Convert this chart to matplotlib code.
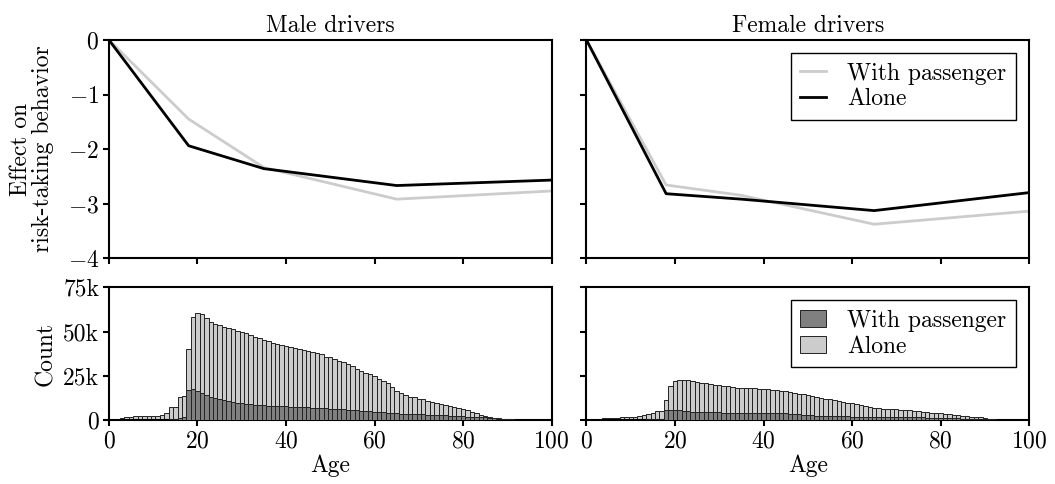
import numpy as np
import matplotlib
matplotlib.use("Agg")
import matplotlib.pyplot as plt
from matplotlib.ticker import FuncFormatter

plt.rcParams['font.family'] = 'serif'
plt.rcParams['font.serif'] = ['cmr10', 'DejaVu Serif']
plt.rcParams['mathtext.fontset'] = 'cm'
plt.rcParams['axes.formatter.use_mathtext'] = True
plt.rcParams['axes.unicode_minus'] = True
plt.rcParams['font.size'] = 17

# effect curves (age knots)
knots = [0, 18, 35, 65, 100]
male_pass_eff = [0, -1.45, -2.34, -2.92, -2.77]
male_alone_eff = [0, -1.94, -2.36, -2.67, -2.57]
female_pass_eff = [0, -2.66, -2.85, -3.38, -3.14]
female_alone_eff = [0, -2.82, -2.92, -3.13, -2.80]

# counts per age 0..100, in thousands
ages = np.arange(0, 101)
male_alone = [
    0.3, 0.5, 0.8, 1.2, 1.7, 2.1, 2.4, 2.5, 2.5, 2.5,
    2.5, 2.6, 2.9, 3.9, 7.5, 7.7, 13.3, 13.5, 40.4, 58.0,
    60.3, 59.7, 57.7, 55.5, 54.3, 53.6, 52.8, 52.0, 51.3, 50.6,
    49.9, 49.0, 48.0, 47.2, 46.2, 45.3, 44.9, 43.8, 43.2, 42.7,
    41.9, 41.5, 40.8, 40.2, 39.5, 39.1, 38.5, 37.8, 37.2, 35.9,
    35.5, 34.4, 33.6, 32.9, 31.6, 30.8, 29.1, 27.8, 26.8, 26.0,
    24.8, 23.5, 22.3, 20.8, 19.0, 16.3, 15.2, 14.3, 13.3, 13.0,
    12.2, 11.8, 11.1, 10.5, 10.0, 9.4, 8.6, 8.1, 7.5, 7.0,
    6.6, 5.8, 4.7, 3.9, 3.2, 2.6, 2.1, 1.5, 1.1, 0.75,
    0.55, 0.4, 0.3, 0.2, 0.15, 0.1, 0.07, 0.05, 0.03, 0.02,
    0.01]
male_pass = [
    0.02, 0.05, 0.05, 0.06, 0.07, 0.08, 0.09, 0.1, 0.1, 0.12,
    0.13, 0.15, 0.2, 0.3, 0.5, 0.6, 1.3, 1.6, 17.3, 17.8,
    16.4, 15.2, 14.1, 13.2, 12.4, 11.8, 11.2, 10.8, 10.4, 10.0,
    9.7, 9.4, 9.1, 8.9, 8.7, 8.5, 8.3, 8.2, 8.0, 7.9,
    7.8, 7.7, 7.6, 7.5, 7.4, 7.3, 7.2, 7.0, 6.9, 6.7,
    6.6, 6.5, 6.3, 6.2, 6.0, 5.9, 5.7, 5.5, 5.3, 5.1,
    4.9, 4.7, 4.5, 4.3, 4.1, 3.9, 3.8, 3.7, 3.6, 3.5,
    3.4, 3.3, 3.2, 3.1, 3.0, 2.9, 2.8, 2.6, 2.5, 2.4,
    2.3, 2.1, 1.9, 1.8, 1.7, 1.6, 1.4, 1.2, 1.0, 0.85,
    0.7, 0.55, 0.4, 0.3, 0.25, 0.2, 0.15, 0.1, 0.07, 0.05,
    0.03]
female_alone = [
    0.3, 0.6, 0.75, 0.9, 1.1, 1.3, 1.5, 1.5, 1.7, 1.7,
    1.9, 2.1, 2.3, 2.8, 3.8, 3.9, 5.3, 5.5, 11.5, 19.4,
    22.2, 22.7, 22.7, 22.6, 22.0, 21.6, 21.2, 20.9, 20.7, 19.9,
    19.7, 19.4, 19.2, 18.6, 18.4, 18.3, 18.2, 18.2, 18.1, 17.8,
    17.6, 17.5, 17.3, 17.0, 16.7, 16.3, 15.9, 15.5, 15.0, 14.6,
    14.1, 13.7, 13.2, 12.7, 12.2, 11.8, 11.4, 10.9, 10.4, 10.0,
    9.5, 9.0, 8.4, 8.0, 7.5, 6.9, 6.8, 6.6, 6.5, 6.3,
    6.2, 6.0, 5.8, 5.6, 5.4, 5.2, 4.9, 4.7, 4.4, 4.1,
    3.9, 3.6, 3.3, 3.0, 2.8, 2.5, 2.3, 2.1, 1.9, 1.6,
    1.3, 1.0, 0.8, 0.6, 0.5, 0.35, 0.25, 0.15, 0.1, 0.06,
    0.03]
female_pass = [
    0.02, 0.05, 0.05, 0.06, 0.07, 0.08, 0.09, 0.1, 0.1, 0.12,
    0.13, 0.15, 0.2, 0.3, 0.5, 0.6, 0.9, 1.0, 5.6, 5.9,
    5.8, 5.6, 5.4, 5.1, 4.9, 4.8, 4.7, 4.6, 4.6, 4.5,
    4.5, 4.4, 4.4, 4.4, 4.4, 4.3, 4.3, 4.3, 4.3, 4.3,
    4.2, 4.2, 4.2, 4.2, 4.1, 4.0, 3.8, 3.5, 3.3, 3.1,
    2.9, 2.8, 2.7, 2.6, 2.5, 2.4, 2.3, 2.3, 2.2, 2.2,
    2.1, 2.1, 2.0, 2.0, 2.0, 1.9, 1.9, 1.9, 1.8, 1.8,
    1.8, 1.7, 1.7, 1.7, 1.6, 1.6, 1.6, 1.5, 1.5, 1.4,
    1.4, 1.3, 1.2, 1.2, 1.1, 1.0, 1.0, 0.9, 0.9, 0.8,
    0.7, 0.6, 0.5, 0.4, 0.3, 0.2, 0.15, 0.1, 0.07, 0.05,
    0.03]

light = '#cccccc'
dark = '#808080'

fig = plt.figure(figsize=(10.55, 4.84), dpi=100)
lx = [0.1033, 0.5559]
w = 0.4195
ax_tl = fig.add_axes([lx[0], 0.4669, w, 0.4504])
ax_tr = fig.add_axes([lx[1], 0.4669, w, 0.4504])
ax_bl = fig.add_axes([lx[0], 0.1316, w, 0.2748])
ax_br = fig.add_axes([lx[1], 0.1316, w, 0.2748])

def style(ax):
    for s in ax.spines.values():
        s.set_linewidth(1.5)
    ax.tick_params(direction='out', length=4, width=1.5, pad=3)
    ax.set_xlim(0, 100)
    ax.set_xticks([0, 20, 40, 60, 80, 100])

# top row: effect lines
for ax, pe, ae, title in [(ax_tl, male_pass_eff, male_alone_eff, 'Male drivers'),
                          (ax_tr, female_pass_eff, female_alone_eff, 'Female drivers')]:
    ax.plot(knots, pe, color=light, lw=2, label='With passenger')
    ax.plot(knots, ae, color='black', lw=2, label='Alone')
    ax.set_ylim(-4, 0)
    ax.set_yticks([0, -1, -2, -3, -4])
    ax.set_title(title, fontsize=17, pad=6)
    style(ax)
    ax.set_xticklabels([])

ax_tr.set_yticklabels([])
ax_tl.set_ylabel('Effect on\nrisk-taking behavior', linespacing=0.95)
ax_tl.yaxis.set_label_coords(-0.125, 0.5)
leg = ax_tr.legend(loc='upper right', fancybox=False, framealpha=1, edgecolor='black',
                   handlelength=1.1, handletextpad=0.9, labelspacing=0.15,
                   borderpad=0.4, borderaxespad=0.55)
leg.get_frame().set_linewidth(1.0)

# bottom row: histograms
kfmt = FuncFormatter(lambda v, p: '0' if v == 0 else '%dk' % round(v / 1000))
for ax, al, ps in [(ax_bl, male_alone, male_pass), (ax_br, female_alone, female_pass)]:
    ax.bar(ages, np.array(al) * 1000, width=1.0, color=light, edgecolor='#222222',
           linewidth=0.7, label='Alone', zorder=2)
    ax.bar(ages, np.array(ps) * 1000, width=1.0, color=dark, edgecolor='#222222',
           linewidth=0.7, label='With passenger', zorder=3)
    ax.set_ylim(0, 75000)
    ax.set_yticks([0, 25000, 50000, 75000])
    ax.yaxis.set_major_formatter(kfmt)
    style(ax)
    ax.set_xlabel('Age', labelpad=2)

ax_br.set_yticklabels([])
ax_bl.set_ylabel('Count')
ax_bl.yaxis.set_label_coords(-0.118, 0.5)
h, l = ax_br.get_legend_handles_labels()
leg2 = ax_br.legend(h[::-1], l[::-1], loc='upper right', fancybox=False, framealpha=1,
                    edgecolor='black', handlelength=1.1, handleheight=0.75,
                    handletextpad=0.9, labelspacing=0.15, borderpad=0.4,
                    borderaxespad=0.55)
leg2.get_frame().set_linewidth(1.0)

fig.savefig('out.png', dpi=100)
